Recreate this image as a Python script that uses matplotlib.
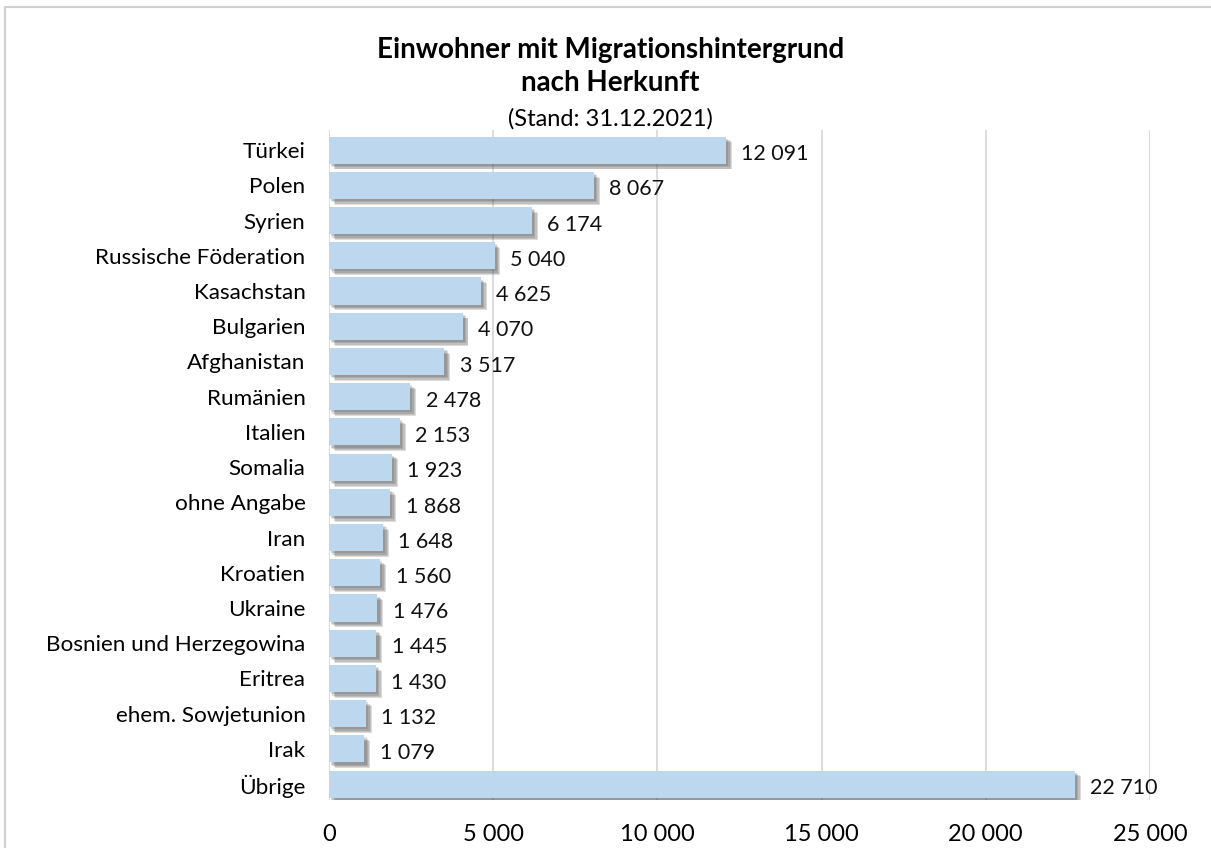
import numpy as np
import matplotlib.pyplot as plt
import matplotlib.patheffects as pe
from matplotlib.ticker import FuncFormatter

plt.rcParams['font.family'] = ['Lato', 'DejaVu Sans']

laender = ["Türkei", "Polen", "Syrien", "Russische Föderation", "Kasachstan",
           "Bulgarien", "Afghanistan", "Rumänien", "Italien", "Somalia",
           "ohne Angabe", "Iran", "Kroatien", "Ukraine",
           "Bosnien und Herzegowina", "Eritrea", "ehem. Sowjetunion", "Irak",
           "Übrige"]
anzahl = [12091, 8067, 6174, 5040, 4625, 4070, 3517, 2478, 2153, 1923,
          1868, 1648, 1560, 1476, 1445, 1430, 1132, 1079, 22710]
xticks = [0, 5000, 10000, 15000, 20000, 25000]


def fmt(v, pos=None):
    return "{:,}".format(int(v)).replace(",", " ")


fig = plt.figure(figsize=(12.11, 8.48), dpi=100)
axes = fig.add_axes([329/1211, 1-800/848, (1150-329)/1211, (800-130)/848])

y = np.arange(len(laender))
# weicher Schatten: mehrere versetzte Lagen
shadow = [pe.SimplePatchShadow(offset=(o, -o), shadow_rgbFace='#505050', alpha=0.2)
          for o in (1.5, 2.5, 3.5, 4.2)] + [pe.Normal()]
bars = axes.barh(y, anzahl, height=0.77, color='#BDD7EE', zorder=3)
for b in bars:
    b.set_path_effects(shadow)

for yi, v in zip(y, anzahl):
    axes.annotate(fmt(v), (v, yi), xytext=(11, -3), textcoords='offset points',
                  va='center', ha='left', fontsize=15.5, color='#111111')

axes.set_xlim(0, 25000)
axes.set_ylim(18.45, -0.57)
axes.set_xticks(xticks)
axes.xaxis.set_major_formatter(FuncFormatter(fmt))
axes.set_yticks(y)
axes.set_yticklabels(laender, fontsize=16.2)
axes.tick_params(axis='y', length=0, pad=17)
axes.tick_params(axis='x', length=0, pad=17.5, labelsize=17)
axes.grid(axis='x', color='#D9D9D9', lw=1.3, zorder=0)
for s in axes.spines.values():
    s.set_visible(False)

fig.text(0.504, 1-50/848, "Einwohner mit Migrationshintergrund", ha='center',
         va='center', fontsize=20, fontweight='bold')
fig.text(0.504, 1-83/848, "nach Herkunft", ha='center', va='center',
         fontsize=20, fontweight='bold')
fig.text(0.504, 1-119/848, "(Stand: 31.12.2021)", ha='center', va='center',
         fontsize=17)

# Rahmen oben/links
fig.add_artist(plt.Line2D([5/1211, 1], [1-6.5/848, 1-6.5/848], color='#D0D0D0', lw=1.5))
fig.add_artist(plt.Line2D([5/1211, 5/1211], [0, 1-6.5/848], color='#D0D0D0', lw=1.5))

fig.savefig("out.png", dpi=100)
